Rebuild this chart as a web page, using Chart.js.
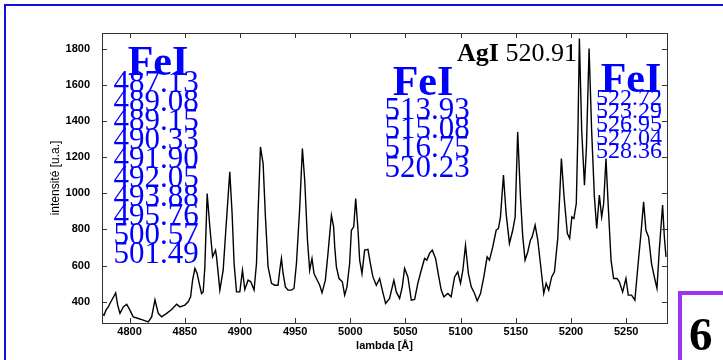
<!DOCTYPE html>
<html>
<head>
<meta charset="utf-8">
<script src="https://cdn.jsdelivr.net/npm/chart.js@4.4.0/dist/chart.umd.min.js"></script>
<style>
	html, body { margin: 0; padding: 0; background: #fff; }
	#wrap { position: relative; width: 723px; height: 360px; overflow: hidden; background: #fff; }
	#frame { position: absolute; left: 4px; top: 4px; width: 800px; height: 400px; border-left: 2px solid #1010e0; border-top: 2px solid #1010e0; }
	#page { position: absolute; left: 678px; top: 291px; width: 60px; height: 80px; border: 4px solid #9b35f5; }
	#page span { position: absolute; left: 7px; top: 16px; font: bold 47px "Liberation Serif"; line-height: 47px; color: #000; }
	canvas { position: absolute; left: 0; top: 0; }
</style>
</head>
<body>
<div id="wrap">
	<div id="frame"></div>
	<canvas id="chartCanvas" width="723" height="360"></canvas>
	<div id="page"><span>6</span></div>
</div>
<script>
// spectrum
const lambdas = [4775.0, 4776.8, 4778.6, 4780.7, 4782.2, 4787.4, 4789.2, 4791.3, 4794.3, 4797.4,
	4800.3, 4803.3, 4807.9, 4812.4, 4816.9, 4820.0, 4823.0, 4826.0, 4829.0, 4833.6,
	4838.1, 4842.6, 4845.6, 4850.1, 4853.1, 4855.3, 4857.1, 4859.2, 4861.2, 4863.1,
	4865.2, 4866.7, 4868.2, 4870.3, 4872.7, 4875.2, 4877.9, 4878.8, 4881.8, 4884.8,
	4887.2, 4890.8, 4892.9, 4894.7, 4896.9, 4899.9, 4902.3, 4904.4, 4907.4, 4909.8,
	4912.8, 4915.0, 4916.4, 4918.6, 4921.0, 4923.1, 4925.5, 4928.6, 4931.6, 4934.5,
	4936.1, 4937.6, 4939.1, 4941.2, 4943.6, 4946.7, 4949.0, 4951.2, 4954.2, 4956.6,
	4958.7, 4961.2, 4963.2, 4965.3, 4967.1, 4969.3, 4972.3, 4974.4, 4977.4, 4979.8,
	4982.9, 4984.9, 4985.9, 4987.4, 4989.8, 4992.8, 4994.9, 4997.0, 4999.4, 5001.0,
	5003.1, 5004.9, 5007.0, 5008.5, 5010.6, 5013.0, 5016.0, 5018.2, 5020.5, 5023.6,
	5026.6, 5029.0, 5032.0, 5035.6, 5039.5, 5041.7, 5044.7, 5047.1, 5049.2, 5052.2,
	5055.3, 5058.3, 5061.2, 5064.3, 5067.3, 5069.4, 5071.8, 5074.3, 5077.3, 5080.2,
	5082.4, 5084.8, 5088.4, 5091.4, 5094.5, 5097.4, 5099.9, 5102.0, 5104.4, 5107.0,
	5109.6, 5112.6, 5115.0, 5118.0, 5121.0, 5124.0, 5126.1, 5129.1, 5132.2, 5134.3,
	5136.1, 5138.8, 5141.2, 5144.2, 5147.2, 5149.4, 5151.7, 5154.2, 5156.3, 5158.4,
	5160.8, 5163.2, 5164.8, 5167.5, 5169.9, 5172.3, 5175.3, 5177.5, 5179.8, 5182.5,
	5185.0, 5188.0, 5191.3, 5193.8, 5196.7, 5198.8, 5200.8, 5202.6, 5204.8, 5206.3,
	5207.6, 5209.7, 5212.2, 5214.0, 5216.4, 5218.7, 5221.2, 5223.3, 5225.7, 5227.8,
	5229.6, 5231.7, 5233.8, 5236.3, 5238.6, 5241.7, 5243.8, 5246.8, 5249.8, 5251.9,
	5254.9, 5257.9, 5260.3, 5263.4, 5265.8, 5267.9, 5270.3, 5273.0, 5275.5, 5277.9,
	5280.0, 5283.0, 5284.6, 5286.1]

const intensity = [335, 325, 353, 371, 390, 449, 381, 335, 371, 386,
	353, 316, 307, 298, 288, 316, 410, 335, 316, 335,
	357, 386, 371, 381, 399, 427, 519, 584, 556, 501,
	445, 454, 592, 998, 814, 648, 685, 648, 464, 574,
	795, 1118, 888, 611, 454, 454, 574, 467, 519, 510,
	464, 611, 888, 1256, 1164, 869, 592, 501, 491, 491,
	574, 639, 556, 482, 464, 464, 473, 611, 924, 1247,
	1072, 740, 574, 639, 556, 528, 491, 449, 519, 667,
	878, 814, 703, 592, 528, 510, 436, 482, 611, 795,
	814, 971, 795, 630, 556, 685, 689, 611, 537, 491,
	528, 464, 390, 418, 519, 454, 418, 482, 584, 537,
	408, 412, 501, 574, 639, 630, 667, 685, 639, 537,
	464, 427, 445, 427, 537, 565, 501, 574, 712, 556,
	482, 445, 404, 445, 537, 648, 630, 703, 795, 805,
	869, 1100, 888, 722, 795, 869, 1339, 980, 758, 630,
	675, 740, 758, 823, 740, 611, 445, 501, 464, 537,
	565, 750, 1192, 975, 777, 750, 869, 860, 943, 1348,
	1856, 1348, 1044, 1256, 1800, 1348, 980, 805, 989, 869,
	943, 1192, 924, 630, 528, 528, 510, 454, 528, 436,
	436, 408, 574, 777, 952, 795, 758, 611, 537, 473,
	685, 934, 758, 648]

const xTicks = [4800, 4850, 4900, 4950, 5000, 5050, 5100, 5150, 5200, 5250]
const yTicks = [400, 600, 800, 1000, 1200, 1400, 1600, 1800]

const feLeft = ["487.13", "489.08", "489.15", "490.33", "491.90", "492.05", "493.88", "495.76", "500.57", "501.49"]
const feMiddle = ["513.93", "515.08", "516.75", "520.23"]
const feRight = ["522.72", "523.29", "526.95", "527.04", "528.36"]

const serif = '"Liberation Serif", "Times New Roman", serif'

// MATLAB style box with ticks pointing inwards
const frameTicks = {
	id: 'frameTicks',
	afterDatasetsDraw(chart) {
		const {ctx, chartArea: a, scales: {x, y}} = chart
		ctx.save()
		ctx.strokeStyle = '#333'
		ctx.lineWidth = 1
		ctx.beginPath()
		for (const v of xTicks) {
			const px = Math.round(x.getPixelForValue(v)) + 0.5
			ctx.moveTo(px, a.bottom)
			ctx.lineTo(px, a.bottom - 5)
			ctx.moveTo(px, a.top)
			ctx.lineTo(px, a.top + 5)
		}
		for (const v of yTicks) {
			const py = Math.round(y.getPixelForValue(v)) + 0.5
			ctx.moveTo(a.left, py)
			ctx.lineTo(a.left + 5, py)
			ctx.moveTo(a.right, py)
			ctx.lineTo(a.right - 5, py)
		}
		ctx.stroke()
		ctx.strokeRect(Math.round(a.left) + 0.5, Math.round(a.top) + 0.5, Math.round(a.right - a.left), Math.round(a.bottom - a.top))
		ctx.restore()
	}
}

function stack(ctx, lines, cx, firstBase, step, size) {
	ctx.font = size + 'px ' + serif
	ctx.textAlign = 'center'
	lines.forEach((t, i) => ctx.fillText(t, cx, firstBase + i * step))
}

const labels = {
	id: 'labels',
	afterDraw(chart) {
		const ctx = chart.ctx
		ctx.save()
		ctx.textBaseline = 'alphabetic'
		ctx.fillStyle = '#0000ff'

		ctx.font = 'bold 42px ' + serif
		ctx.textAlign = 'center'
		ctx.fillText("FeI", 158, 75)
		ctx.fillText("FeI", 423, 95)
		ctx.fillText("FeI", 631, 92)

		stack(ctx, feLeft, 156, 92, 19.05, 31)
		stack(ctx, feMiddle, 427, 118.5, 19.4, 31)
		stack(ctx, feRight, 629, 104.5, 13.45, 24)

		ctx.fillStyle = '#000'
		ctx.textAlign = 'left'
		ctx.font = 'bold 26px ' + serif
		ctx.fillText("AgI", 457, 60.5)
		const w = ctx.measureText("AgI").width
		ctx.font = '26px ' + serif
		ctx.fillText(" 520.91", 457 + w, 60.5)
		ctx.restore()
	}
}

const tickFont = {family: '"Liberation Sans", Arial, sans-serif', size: 11, weight: 'bold'}

new Chart(document.getElementById("chartCanvas"), {
	type: 'line',
	data: {
		datasets: [{
			data: lambdas.map((l, i) => ({x: l, y: intensity[i]})),
			borderColor: '#000',
			borderWidth: 1.4,
			pointRadius: 0,
			tension: 0,
		}],
	},
	options: {
		responsive: false,
		animation: false,
		devicePixelRatio: 1,
		layout: {
			padding: {left: 0, top: 33, right: 56, bottom: 0},
		},
		plugins: {
			legend: {display: false},
			tooltip: {enabled: false},
		},
		scales: {
			x: {
				type: 'linear',
				min: 4775,
				max: 5287,
				afterBuildTicks: (axis) => { axis.ticks = xTicks.map(v => ({value: v})) },
				afterFit: (axis) => { axis.height = 37 },
				grid: {drawOnChartArea: false, drawTicks: false},
				border: {display: false},
				ticks: {
					padding: 2,
					maxRotation: 0,
					color: '#000',
					font: tickFont,
					callback: (v) => String(v),
				},
				title: {
					display: true,
					text: "lambda [Å]",
					color: '#000',
					font: tickFont,
					padding: {top: 0, bottom: 7},
				},
			},
			y: {
				type: 'linear',
				min: 282,
				max: 1886,
				afterBuildTicks: (axis) => { axis.ticks = yTicks.map(v => ({value: v})) },
				afterFit: (axis) => { axis.width = 102 },
				grid: {drawOnChartArea: false, drawTicks: false},
				border: {display: false},
				ticks: {
					padding: 12,
					color: '#000',
					font: tickFont,
					callback: (v) => String(v),
				},
				title: {
					display: true,
					text: "intensité [u.a.]",
					color: '#000',
					font: {family: '"Liberation Sans", Arial, sans-serif', size: 12},
					padding: {top: 48, bottom: 0},
				},
			},
		},
	},
	plugins: [frameTicks, labels],
})
</script>
</body>
</html>
